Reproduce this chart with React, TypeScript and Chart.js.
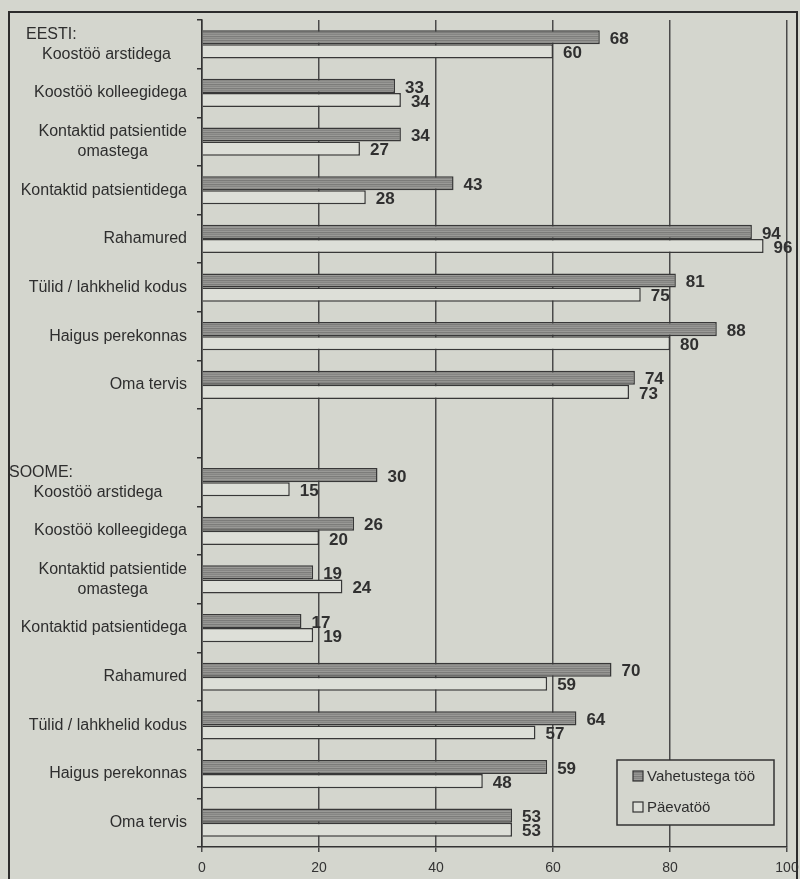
import React, { useEffect, useRef } from "react";
import { Chart, registerables } from "chart.js";

Chart.register(...registerables);

// Survey items, shown once per country group
const categories: (string | string[])[] = [
  "Koostöö arstidega",
  "Koostöö kolleegidega",
  ["Kontaktid patsientide", "omastega"],
  "Kontaktid patsientidega",
  "Rahamured",
  "Tülid / lahkhelid kodus",
  "Haigus perekonnas",
  "Oma tervis",
];

const groupNames = ["EESTI:", "SOOME:"];
const seriesNames = ["Vahetustega töö", "Päevatöö"];

const eestiShift = [68, 33, 34, 43, 94, 81, 88, 74];
const eestiDay = [60, 34, 27, 28, 96, 75, 80, 73];
const soomeShift = [30, 26, 19, 17, 70, 64, 59, 53];
const soomeDay = [15, 20, 24, 19, 59, 57, 48, 53];

const xTicks = [0, 20, 40, 60, 80, 100];

// Two groups separated by one empty row
const rowLabels = [...categories, "", ...categories];
const groupStarts = [0, categories.length + 1];
const shiftData = [...eestiShift, null, ...soomeShift];
const dayData = [...eestiDay, null, ...soomeDay];

const PAPER = "#d4d6ce";
const INK = "#333333";
const LIGHT_FILL = "#dddfd8";
const FONT = "'Liberation Sans', Arial, sans-serif";

function makeStripes(): CanvasPattern | string {
  const c = document.createElement("canvas");
  c.width = 8;
  c.height = 4;
  const g = c.getContext("2d");
  if (!g) return "#888886";
  const rows = ["#7c7c7a", "#939390", "#868684", "#9a9a97"];
  rows.forEach((col, i) => {
    g.fillStyle = col;
    g.fillRect(0, i, 8, 1);
  });
  const p = g.createPattern(c, "repeat");
  return p || "#888886";
}

export default function App() {
  const canvasRef = useRef<HTMLCanvasElement | null>(null);

  useEffect(() => {
    const canvas = canvasRef.current;
    if (!canvas) return;
    const stripes = makeStripes();

    const paperAndFrame = {
      id: "paperAndFrame",
      beforeDraw(chart: any) {
        const ctx = chart.ctx;
        ctx.save();
        ctx.fillStyle = PAPER;
        ctx.fillRect(0, 0, chart.width, chart.height);
        ctx.strokeStyle = "#2c2c2c";
        ctx.lineWidth = 2;
        ctx.beginPath();
        ctx.moveTo(9, chart.height + 5);
        ctx.lineTo(9, 12);
        ctx.lineTo(797, 12);
        ctx.lineTo(797, chart.height + 5);
        ctx.stroke();
        ctx.restore();
      },
    };

    const rowText = {
      id: "rowText",
      afterDraw(chart: any) {
        const ctx = chart.ctx;
        const y = chart.scales.y;
        const right = chart.chartArea.left - 15;
        const lineH = 20;
        const headerSpan = [161, 178];
        ctx.save();
        ctx.fillStyle = "#2e2e2e";
        ctx.font = `16px ${FONT}`;
        ctx.textBaseline = "middle";
        rowLabels.forEach((lab, i) => {
          if (lab === "") return;
          const lines = Array.isArray(lab) ? lab : [lab];
          const cy = y.getPixelForValue(i);
          const g = groupStarts.indexOf(i);
          if (g >= 0) {
            const span = headerSpan[g];
            const all = [groupNames[g], ...lines];
            const top = cy - ((all.length - 1) * lineH) / 2;
            ctx.textAlign = "left";
            ctx.fillText(groupNames[g], right - span, top);
            ctx.textAlign = "center";
            lines.forEach((ln, k) => {
              ctx.fillText(ln, right - span / 2, top + (k + 1) * lineH);
            });
          } else {
            const w = Math.max(...lines.map((ln) => ctx.measureText(ln).width));
            const top = cy - ((lines.length - 1) * lineH) / 2;
            ctx.textAlign = "center";
            lines.forEach((ln, k) => {
              ctx.fillText(ln, right - w / 2, top + k * lineH);
            });
          }
        });
        ctx.restore();
      },
    };

    const valueText = {
      id: "valueText",
      afterDatasetsDraw(chart: any) {
        const ctx = chart.ctx;
        ctx.save();
        ctx.fillStyle = "#303030";
        ctx.font = `bold 17px ${FONT}`;
        ctx.textAlign = "left";
        ctx.textBaseline = "middle";
        chart.data.datasets.forEach((ds: any, di: number) => {
          const meta = chart.getDatasetMeta(di);
          meta.data.forEach((el: any, i: number) => {
            const v = ds.data[i];
            if (v === null || v === undefined) return;
            ctx.fillText(String(v), el.x + 10, el.y + 2);
          });
        });
        ctx.restore();
      },
    };

    const boxLegend = {
      id: "boxLegend",
      afterDraw(chart: any) {
        const ctx = chart.ctx;
        const a = chart.chartArea;
        const w = 157;
        const h = 65;
        const x0 = a.right - 13 - w;
        const y0 = a.bottom - 22 - h;
        ctx.save();
        ctx.fillStyle = PAPER;
        ctx.fillRect(x0, y0, w, h);
        ctx.strokeStyle = INK;
        ctx.lineWidth = 1.5;
        ctx.strokeRect(x0, y0, w, h);
        ctx.font = `15px ${FONT}`;
        ctx.textBaseline = "middle";
        ctx.textAlign = "left";
        chart.data.datasets.forEach((ds: any, di: number) => {
          const cy = y0 + 16 + di * 31;
          ctx.fillStyle = ds.backgroundColor;
          ctx.fillRect(x0 + 16, cy - 5, 10, 10);
          ctx.strokeStyle = INK;
          ctx.lineWidth = 1.2;
          ctx.strokeRect(x0 + 16, cy - 5, 10, 10);
          ctx.fillStyle = "#2e2e2e";
          ctx.fillText(ds.label, x0 + 30, cy + 1);
        });
        ctx.restore();
      },
    };

    const chart = new Chart(canvas, {
      type: "bar",
      data: {
        labels: rowLabels,
        datasets: [
          {
            label: seriesNames[0],
            data: shiftData,
            backgroundColor: stripes as any,
            borderColor: "#383838",
            borderWidth: 1.5,
            categoryPercentage: 0.58,
            barPercentage: 1,
          },
          {
            label: seriesNames[1],
            data: dayData,
            backgroundColor: LIGHT_FILL,
            borderColor: "#383838",
            borderWidth: 1.5,
            categoryPercentage: 0.58,
            barPercentage: 1,
          },
        ],
      },
      options: {
        indexAxis: "y",
        responsive: false,
        animation: false,
        layout: { padding: { left: 197, right: 13, top: 20, bottom: 2 } },
        plugins: {
          legend: { display: false },
          tooltip: { enabled: false },
        },
        scales: {
          x: {
            type: "linear",
            min: xTicks[0],
            max: xTicks[xTicks.length - 1],
            afterBuildTicks: (s: any) => {
              s.ticks = xTicks.map((v) => ({ value: v }));
            },
            afterFit: (s: any) => {
              // axis strip: tick marks + gap + one line of labels
              s.height = 30;
              s.paddingLeft = 0;
              s.paddingRight = 0;
            },
            ticks: {
              color: "#333",
              font: { family: FONT, size: 14 },
              padding: 8,
              maxRotation: 0,
            },
            grid: {
              color: "#4a4a4a",
              lineWidth: 1.5,
              tickLength: 5,
              drawTicks: true,
            },
            border: { display: true, color: INK, width: 1.5 },
          },
          y: {
            type: "category",
            offset: true,
            ticks: { display: false },
            grid: {
              offset: true,
              drawOnChartArea: false,
              drawTicks: true,
              tickLength: 5,
              color: INK,
              lineWidth: 1.5,
            },
            border: { display: true, color: INK, width: 1.5 },
          },
        },
      },
      plugins: [paperAndFrame, valueText, rowText, boxLegend],
    } as any);

    return () => {
      chart.destroy();
    };
  }, []);

  return (
    <div
      style={{
        position: "fixed",
        left: 0,
        top: 0,
        width: 800,
        height: 879,
        background: PAPER,
      }}
    >
      <canvas ref={canvasRef} width={800} height={879} style={{ display: "block" }} />
    </div>
  );
}
